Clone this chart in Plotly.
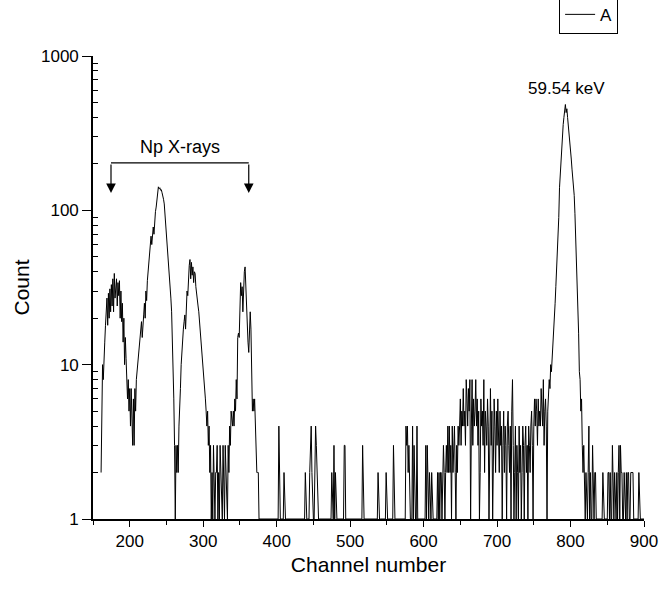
import plotly.graph_objects as go

# ---- data (channel 161 .. 900, one value per channel) ----
channel_start = 161

counts_np_xrays = [  # channels 161-376
    2, 6, 10, 8, 13, 14, 18, 22, 27, 18,
    29, 20, 31, 22, 33, 24, 36, 22, 39, 27,
    33, 36, 24, 34, 28, 35, 20, 30, 19, 25,
    14, 20, 10, 15, 11, 9, 6, 8, 5, 7,
    4, 7, 5, 3, 6, 3, 7, 5, 8, 9,
    10, 11, 13, 14, 16, 19, 15, 20, 21, 25,
    20, 30, 26, 35, 40, 45, 50, 55, 68, 60,
    72, 78, 70, 90, 98, 105, 115, 125, 142, 138,
    140, 135, 136, 130, 125, 118, 110, 95, 82, 72,
    63, 55, 48, 41, 33, 27, 22, 15, 8, 6,
    3, 1, 3, 2, 3, 2, 4, 5, 7, 10,
    13, 14, 17, 19, 21, 17, 25, 30, 28, 38,
    44, 48, 36, 46, 38, 43, 34, 40, 39, 32,
    28, 26, 24, 22, 19, 18, 15, 13, 11, 9,
    9, 7, 6, 5, 4, 5, 3, 4, 2, 3,
    1, 2, 1, 3, 2, 1, 2, 2, 3, 1,
    2, 1, 3, 2, 1, 1, 3, 2, 1, 3,
    2, 2, 1, 3, 2, 4, 3, 5, 4, 4,
    5, 4, 6, 5, 8, 6, 15, 16, 15, 22,
    34, 28, 32, 22, 35, 40, 43, 30, 24, 20,
    14, 12, 18, 22, 17, 8, 5, 6, 5, 6,
    4, 3, 2, 2, 2, 1,
]

counts_middle = [  # channels 377-599
    1, 1, 1, 1, 1, 1, 1, 1, 1, 1,
    1, 1, 1, 1, 1, 1, 1, 1, 1, 1,
    1, 1, 1, 1, 1, 1, 4, 1, 1, 1,
    1, 1, 1, 2, 1, 1, 1, 1, 1, 1,
    1, 1, 1, 1, 1, 1, 1, 1, 1, 1,
    1, 1, 1, 1, 1, 1, 1, 1, 1, 1,
    1, 1, 2, 1, 1, 1, 1, 1, 2, 3,
    4, 2, 1, 1, 1, 3, 4, 3, 2, 1,
    1, 1, 1, 1, 1, 1, 1, 1, 1, 1,
    1, 1, 1, 1, 1, 1, 1, 1, 2, 1,
    1, 3, 1, 2, 1, 1, 1, 1, 1, 1,
    1, 1, 1, 1, 1, 3, 3, 1, 1, 1,
    1, 1, 1, 1, 1, 1, 1, 1, 1, 1,
    1, 1, 1, 1, 1, 1, 1, 1, 1, 1,
    3, 1, 1, 1, 1, 1, 1, 1, 1, 1,
    1, 1, 1, 1, 1, 1, 1, 1, 1, 1,
    1, 2, 1, 1, 1, 1, 1, 1, 1, 1,
    1, 1, 2, 1, 1, 1, 1, 1, 1, 1,
    1, 1, 3, 1, 1, 1, 1, 1, 1, 1,
    1, 1, 1, 1, 1, 1, 1, 1, 1, 4,
    3, 4, 2, 3, 1, 1, 1, 1, 4, 1,
    3, 1, 1, 1, 4, 1, 1, 1, 1, 1,
    1, 1, 1,
]

counts_plateau = [  # channels 600-774
    1, 1, 1, 3, 1, 3, 2, 1, 2, 1,
    1, 2, 1, 1, 1, 1, 1, 1, 1, 2,
    1, 2, 1, 2, 2, 1, 2, 3, 2, 1,
    2, 3, 2, 4, 2, 4, 2, 3, 1, 4,
    2, 3, 4, 2, 1, 3, 2, 4, 3, 4,
    6, 3, 5, 4, 7, 4, 5, 3, 8, 6,
    4, 7, 5, 8, 1, 4, 8, 3, 6, 4,
    5, 8, 4, 6, 3, 5, 1, 2, 6, 4,
    5, 3, 8, 2, 5, 4, 3, 6, 4, 1,
    5, 7, 3, 5, 1, 4, 6, 4, 2, 5,
    3, 6, 4, 2, 5, 3, 4, 1, 3, 5,
    2, 4, 3, 1, 4, 5, 3, 2, 4, 1,
    5, 8, 3, 1, 2, 4, 1, 3, 2, 1,
    4, 2, 3, 1, 2, 4, 3, 1, 3, 4,
    2, 3, 1, 4, 3, 2, 4, 5, 3, 1,
    4, 6, 4, 6, 5, 3, 6, 4, 5, 4,
    7, 5, 4, 8, 3, 5, 6, 4, 1, 5,
    6, 8, 7, 10, 9,
]

counts_am_peak = [  # channels 775-830 (59.54 keV line)
    11, 12, 14, 19, 25, 32, 40, 52, 66, 90,
    140, 175, 215, 270, 320, 360, 400, 440, 485, 430,
    455, 400, 360, 320, 290, 250, 215, 185, 165, 150,
    125, 95, 70, 50, 35, 24, 16, 9, 8, 5,
    6, 3, 2, 3, 2, 1, 2, 1, 1, 2,
    4, 1, 2, 1, 1, 3,
]

counts_tail = [  # channels 831-900
    1, 1, 2, 2, 1, 1, 1, 1, 1, 1,
    1, 1, 1, 2, 1, 1, 1, 1, 1, 1,
    2, 2, 1, 2, 1, 1, 3, 1, 1, 2,
    1, 1, 2, 1, 2, 3, 1, 3, 2, 2,
    1, 1, 2, 1, 1, 2, 1, 2, 2, 1,
    1, 2, 2, 2, 2, 1, 1, 1, 1, 1,
    1, 1, 2, 1, 1, 1, 1, 1, 1, 1,
]

x_ticks = [200, 300, 400, 500, 600, 700, 800, 900]
x_minor = [150, 250, 350, 450, 550, 650, 750, 850]
y_ticks = [1, 10, 100, 1000]
y_ticklabels = ["1", "10", "100", "1000"]
y_minor = [m * d for d in (1, 10, 100) for m in range(2, 10)]

counts = counts_np_xrays + counts_middle + counts_plateau + counts_am_peak + counts_tail
channels = list(range(channel_start, channel_start + len(counts)))

FONT = "Liberation Sans, Arial, sans-serif"

fig = go.Figure()
fig.add_trace(go.Scatter(
    x=channels, y=counts, mode="lines", name="A",
    line=dict(color="black", width=1.0), xaxis="x", yaxis="y",
))

axis_line = dict(showline=True, linecolor="black", linewidth=1.6,
                 showgrid=False, zeroline=False, automargin=False)
tick_style = dict(tickwidth=1.2, tickcolor="black")

fig.update_layout(
    width=662, height=591,
    margin=dict(l=93, r=18, t=56, b=72, autoexpand=False),
    paper_bgcolor="white", plot_bgcolor="white",
    font=dict(family=FONT, color="black", size=16),
    showlegend=True,
    legend=dict(x=0.953, y=1.13, xanchor="right", yanchor="top",
                bordercolor="black", borderwidth=1, bgcolor="white",
                font=dict(size=17, family=FONT),
                itemwidth=30, tracegroupgap=0),
    xaxis=dict(range=[150, 900], tickvals=x_ticks, ticks="outside",
               ticklen=6, **tick_style,
               minor=dict(tickvals=x_minor, ticks="outside", ticklen=4, **tick_style),
               title=dict(text="Channel number", font=dict(size=21, family=FONT), standoff=7),
               tickfont=dict(size=17, family=FONT), **axis_line),
    xaxis2=dict(range=[150, 900], overlaying="x", side="top", tickvals=x_ticks,
                ticks="inside", ticklen=8, **tick_style,
                minor=dict(tickvals=x_minor, ticks="inside", ticklen=6, **tick_style),
                showticklabels=False, **axis_line),
    yaxis=dict(type="log", range=[0, 3], tickvals=y_ticks, ticktext=y_ticklabels,
               ticks="outside", ticklen=9, **tick_style,
               minor=dict(tickvals=y_minor, ticks="inside", ticklen=5, **tick_style),
               title=dict(text="Count", font=dict(size=21, family=FONT), standoff=6),
               tickfont=dict(size=17, family=FONT), **axis_line),
    yaxis2=dict(type="log", range=[0, 3], overlaying="y", side="right",
                tickvals=y_ticks, ticks="inside", ticklen=9, **tick_style,
                minor=dict(tickvals=y_minor, ticks="inside", ticklen=5, **tick_style),
                showticklabels=False, **axis_line),
)

# "Np X-rays" bracket with two down arrows
bracket_y = 0.769   # paper fraction of the horizontal bracket
arrow_tip_y = 0.704
for xc in (174.5, 362):
    fig.add_annotation(x=xc, xref="x", y=arrow_tip_y, yref="paper",
                       ax=0, ay=-30, axref="pixel", ayref="pixel",
                       text="", showarrow=True, arrowhead=2, arrowsize=1.6,
                       arrowwidth=1.2, arrowcolor="black")
fig.add_shape(type="line", xref="x", yref="paper", x0=174.5, x1=362,
              y0=bracket_y, y1=bracket_y, line=dict(color="black", width=1.2))
fig.add_annotation(x=268, xref="x", y=0.803, yref="paper", yanchor="middle",
                   text="Np X-rays", showarrow=False, font=dict(size=18, family=FONT))
fig.add_annotation(x=794, xref="x", y=0.93, yref="paper", yanchor="middle",
                   text="59.54 keV", showarrow=False, font=dict(size=17, family=FONT))

fig.write_html("out.html")
